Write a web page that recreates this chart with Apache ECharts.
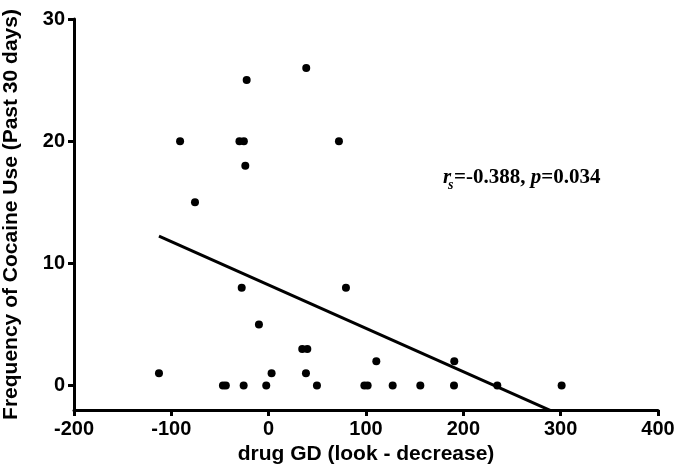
<!DOCTYPE html>
<html><head><meta charset="utf-8">
<script src="https://cdn.jsdelivr.net/npm/echarts@6/dist/echarts.min.js"></script>
<style>html,body{margin:0;padding:0;background:#fff}#c{width:677px;height:470px}</style>
</head><body><div id="c"></div>
<script>
const drugGD = [-112.7,-91,-75.7,-47,-44,-30,-25.5,-22.6,-24,-27.7,-25.7,-10,-2.5,3,34.5,39.7,38.3,38.6,49.6,72.2,79.4,98.3,101.7,110.6,127.4,155.8,190.4,190.7,234.9,301];
const cocaineUse = [1,20,15,0,0,20,20,25,18,8,0,5,0,1,3,3,1,26,0,20,8,0,0,2,0,0,0,2,0,0];
const fitX = [-112.7, 301];
const fitY = [12.24, -2.45];
const xTicks = [-200,-100,0,100,200,300,400];
const yTicks = [0,10,20,30];
const xTitle = 'drug GD (look - decrease)';
const yTitle = 'Frequency of Cocaine Use (Past 30 days)';

const pts = drugGD.map((x,i)=>[x,cocaineUse[i]]);
const fit = fitX.map((x,i)=>[x,fitY[i]]);
const font = 'Liberation Sans, Arial, sans-serif';
const serif = 'Liberation Serif, Times New Roman, serif';
const chart = echarts.init(document.getElementById('c'));
chart.setOption({
  animation:false,
  backgroundColor:'#fff',
  grid:{left:74,right:19,top:19,bottom:60,containLabel:false,outerBoundsMode:'none'},
  xAxis:{type:'value',min:-200,max:400,interval:100,
    name:xTitle,nameLocation:'middle',nameGap:24,
    nameTextStyle:{fontFamily:font,fontWeight:'bold',fontSize:21,color:'#000'},
    axisLine:{show:true,onZero:false,lineStyle:{color:'#000',width:3}},
    axisTick:{show:true,length:6,lineStyle:{color:'#000',width:3},customValues:xTicks},
    axisLabel:{fontFamily:font,fontWeight:'bold',fontSize:20,color:'#000',margin:9,customValues:xTicks},
    splitLine:{show:false}},
  yAxis:{type:'value',min:-2,max:30,
    name:yTitle,nameLocation:'middle',nameGap:52,
    nameTextStyle:{fontFamily:font,fontWeight:'bold',fontSize:21,color:'#000'},
    axisLine:{show:true,onZero:false,lineStyle:{color:'#000',width:3}},
    axisTick:{show:true,length:6,lineStyle:{color:'#000',width:3},customValues:yTicks},
    axisLabel:{fontFamily:font,fontWeight:'bold',fontSize:20,color:'#000',margin:9,customValues:yTicks},
    splitLine:{show:false}},
  series:[
    {type:'scatter',data:pts,symbol:'circle',symbolSize:8,itemStyle:{color:'#000',opacity:1},z:3},
    {type:'line',data:fit,symbol:'none',clip:true,lineStyle:{color:'#000',width:3},z:2}
  ],
  graphic:[
    {type:'text',x:443,y:177.5,style:{text:'r',font:'italic bold 21px '+serif,fill:'#000',verticalAlign:'middle',align:'left'}},
    {type:'text',x:448,y:185.5,style:{text:'s',font:'italic bold 14px '+serif,fill:'#000',verticalAlign:'middle',align:'left'}},
    {type:'text',x:454,y:177.5,style:{
      text:'{b|=-0.388, }{i|p}{b|=0.034}',verticalAlign:'middle',align:'left',
      rich:{
        i:{fontFamily:serif,fontStyle:'italic',fontWeight:'bold',fontSize:21,fill:'#000'},
        b:{fontFamily:serif,fontWeight:'bold',fontSize:21,fill:'#000'}
      }}}
  ]
});
</script></body></html>
